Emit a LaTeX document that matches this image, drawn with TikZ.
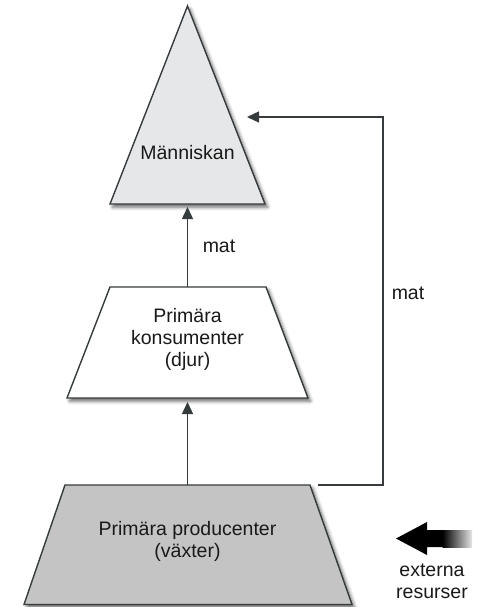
\documentclass[tikz,border=0pt]{standalone}
\usepackage{fontspec}
\setmainfont{Liberation Sans}
\usetikzlibrary{arrows.meta,shadows.blur}

\definecolor{edge}{HTML}{363C3E}
\definecolor{topfill}{HTML}{E6E7E8}
\definecolor{basefill}{HTML}{C4C4C4}

\begin{document}
\begin{tikzpicture}[x=1pt,y=-1pt,
  level/.style={draw=edge, line width=1.4pt, line join=miter,
    blur shadow={shadow xshift=2.5pt, shadow yshift=-3pt,
                 shadow opacity=60, shadow blur radius=3.5pt}},
  flow/.style={draw=edge, line width=1.4pt,
    -{Triangle[length=12pt,width=11pt]}},
  txt/.style={font=\fontsize{19.5}{22}\selectfont, text=black!90,
    align=center, inner sep=0pt}
]
\useasboundingbox (0,0) rectangle (482,607);

% --- the three levels ---
\path[level, fill=topfill] (187.5,6) -- (265,204) -- (110,204) -- cycle;
\path[level, fill=white] (110,287) -- (266,287) -- (308,398) -- (67,398) -- cycle;
\path[level, fill=basefill] (65,485) -- (310,485) -- (352,604.5) -- (24,604.5) -- cycle;

% --- labels of the levels ---
\node[txt] (human) at (187.5,153) {Människan};
\node[txt] (consumers) at (187.5,339) {Primära\\konsumenter\\(djur)};
\node[txt] (producers) at (187.5,541) {Primära producenter\\(växter)};

% --- anchor points of the connectors ---
\coordinate (human-base)   at (187.5,207);
\coordinate (human-side)   at (247,117);
\coordinate (cons-top)     at (187.5,287);
\coordinate (cons-base)    at (187.5,402);
\coordinate (prod-top)     at (187.5,485);
\coordinate (prod-corner)  at (318,485);
\coordinate (bend-low)     at (383,485);
\coordinate (bend-high)    at (383,117);

% --- food flows ---
\draw[flow] (prod-top) -- (cons-base);
\draw[flow] (cons-top) -- (human-base);
\draw[flow] (prod-corner) -- (bend-low) -- (bend-high) -- (human-side);

\node[txt] (food-mid) at (219,246) {mat};
\node[txt] (food-side) at (408,293) {mat};

% --- external resources arrow ---
\coordinate (ext-tip) at (396,538.5);
\fill[black] (ext-tip) -- (427,522) -- (427,530) -- (443,530)
  -- (443,547) -- (427,547) -- (427,555) -- cycle;
\shade[left color=black, right color=black!10] (442.5,530) rectangle (472,547);
\node[txt] (ext) at (432,581) {externa\\resurser};
\end{tikzpicture}
\end{document}
